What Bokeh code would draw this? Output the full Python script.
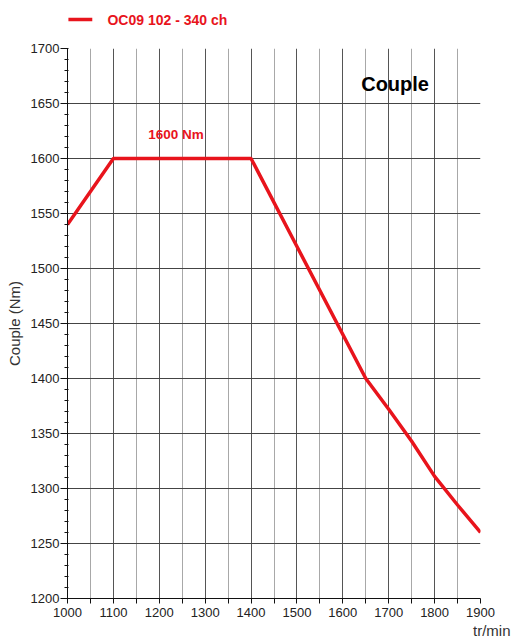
from bokeh.plotting import figure
from bokeh.layouts import column
from bokeh.models import Range1d, FixedTicker, Label, Title
from bokeh.embed import file_html
from bokeh.resources import INLINE

# ---- data ----
rpm = [1000, 1100, 1400, 1500, 1650, 1700, 1750, 1800, 1850, 1900]
torque = [1540, 1600, 1600, 1520, 1400, 1372, 1343, 1311, 1285, 1260]
x_ticks = list(range(1000, 1901, 100))
x_minor = list(range(1050, 1900, 100))
y_ticks = list(range(1200, 1701, 50))
y_minor = list(range(1200, 1701, 10))
series_name = "OC09 102 - 340 ch"
title_text = "Couple"
peak_label = "1600 Nm"
x_unit = "tr/min"
y_label = "Couple (Nm)"

FONT = "Liberation Sans"
RED = "#e8141c"

# ---- legend strip on top (same horizontal frame as the chart) ----
top = figure(frame_width=413, frame_height=30, output_backend="svg",
             toolbar_location=None, x_axis_type=None, y_axis_type=None,
             min_border_left=67, min_border_right=31, min_border_top=0,
             min_border_bottom=0,
             x_range=Range1d(1000, 1900), y_range=Range1d(0, 30))
top.outline_line_color = None
top.grid.visible = False
top.line([1002, 1054], [11, 11], line_color=RED, line_width=3.5)
top.add_layout(Label(x=1087, y=11, text=series_name, text_font=FONT,
                     text_font_size="14px", text_font_style="bold",
                     text_color=RED, text_baseline="middle"))

# ---- main chart ----
p = figure(frame_width=413, frame_height=550, output_backend="svg",
           toolbar_location=None,
           x_range=Range1d(1000, 1900), y_range=Range1d(1200, 1700),
           min_border_left=67, min_border_right=31, min_border_top=18,
           min_border_bottom=45)
p.outline_line_color = None
p.background_fill_color = "white"
p.border_fill_color = "white"

# axes
p.xaxis.ticker = FixedTicker(ticks=x_ticks, minor_ticks=x_minor)
p.yaxis.ticker = FixedTicker(ticks=y_ticks, minor_ticks=y_minor)
for ax in (p.xaxis, p.yaxis):
    ax.axis_line_color = "#111"
    ax.major_tick_line_color = "#111"
    ax.minor_tick_line_color = "#111"
    ax.major_label_text_font = FONT
    ax.major_label_text_font_size = "13px"
    ax.major_label_text_color = "#222"
    ax.major_tick_in = 0
p.xaxis.major_tick_out = 5
p.xaxis.minor_tick_out = 5
p.xaxis.minor_tick_in = 0
p.xaxis.major_label_standoff = 4
p.yaxis.major_tick_out = 7
p.yaxis.minor_tick_out = 3
p.yaxis.minor_tick_in = 1
p.yaxis.major_label_standoff = 1

p.yaxis.axis_label = y_label
p.yaxis.axis_label_text_font = FONT
p.yaxis.axis_label_text_font_size = "15px"
p.yaxis.axis_label_text_font_style = "normal"
p.yaxis.axis_label_text_color = "#333"
p.yaxis.axis_label_standoff = 5

# grids
p.xgrid.ticker = FixedTicker(ticks=x_ticks, minor_ticks=x_minor)
p.xgrid.grid_line_color = "#555"
p.xgrid.minor_grid_line_color = "#a8a8a8"
p.ygrid.ticker = FixedTicker(ticks=y_ticks)
p.ygrid.grid_line_color = "#444"

# curve
r = p.line(rpm, torque, line_color=RED, line_width=3.5)

# annotations inside the frame
p.add_layout(Label(x=1640, y=1668, text=title_text, text_font=FONT,
                   text_font_size="20px", text_font_style="bold",
                   text_color="black", text_baseline="middle"))
p.add_layout(Label(x=1176, y=1622, text=peak_label, text_font=FONT,
                   text_font_size="13.5px", text_font_style="bold",
                   text_color=RED, text_baseline="middle"))

# x unit below the axis
p.add_layout(Title(text=x_unit, align="right", text_font=FONT,
                   text_font_size="15px", text_font_style="normal",
                   text_color="#333", offset=-30, standoff=0), "below")

layout = column(top, p, spacing=0)
open("out.html", "w").write(file_html(layout, INLINE))
